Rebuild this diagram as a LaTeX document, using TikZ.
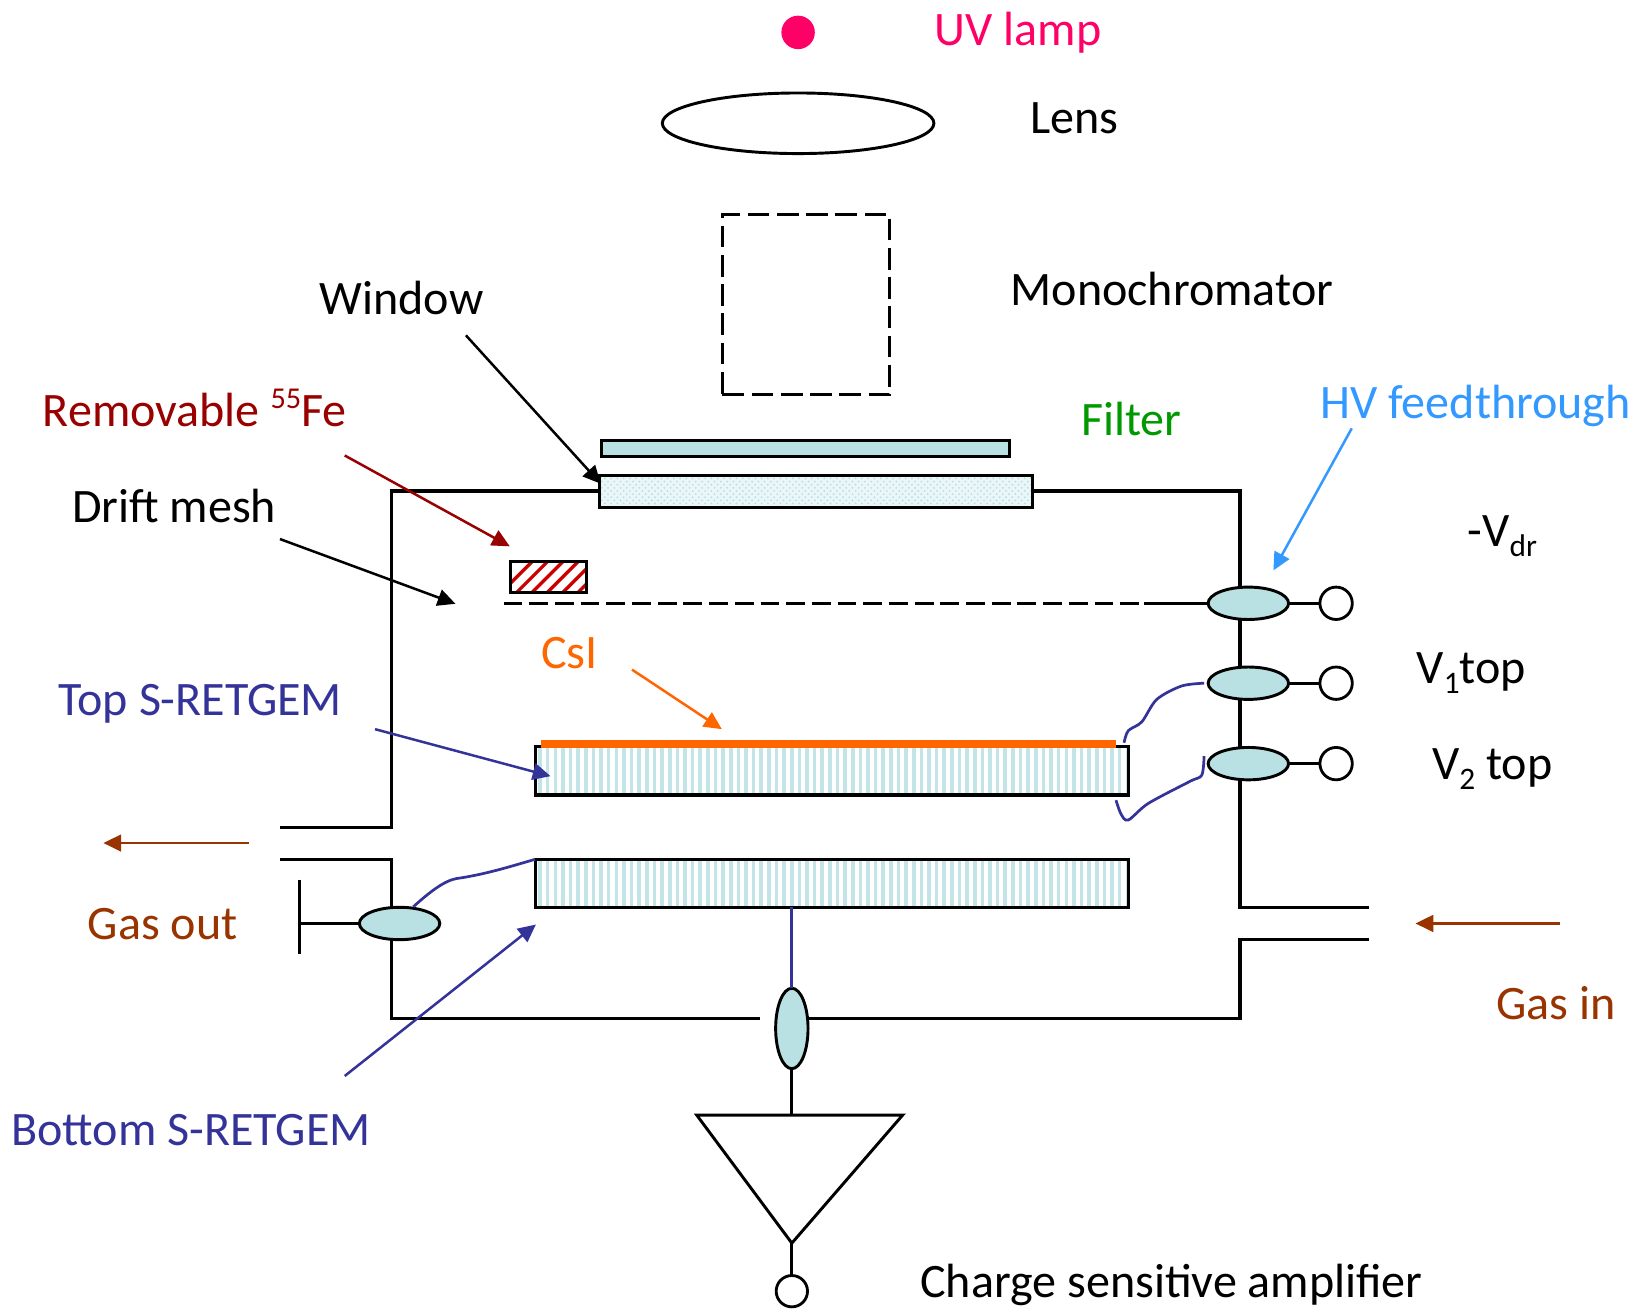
\documentclass[tikz,border=0pt]{standalone}
\usepackage{fontspec}
\setmainfont{Carlito}
\usetikzlibrary{shapes.geometric,arrows.meta,patterns}
\definecolor{pale}{HTML}{B9E0E3}
\definecolor{indigoc}{HTML}{333399}
\definecolor{brownc}{HTML}{993300}
\definecolor{redc}{HTML}{990000}
\definecolor{hvblue}{HTML}{3399FF}
\definecolor{orangec}{HTML}{FF6600}
\definecolor{greenc}{HTML}{009900}
\definecolor{pinkc}{HTML}{FF0066}
\tikzset{
 every node/.style={outer sep=0pt},
 wall/.style={line width=1.45pt,black},
 feed/.style={draw=black,line width=1.4pt,fill=pale,ellipse,inner sep=0pt,minimum width=38.5pt,minimum height=15.5pt},
 vfeed/.style={draw=black,line width=1.4pt,fill=pale,ellipse,inner sep=0pt,minimum width=15.5pt,minimum height=38.5pt},
 term/.style={draw=black,line width=1.35pt,fill=white,circle,inner sep=0pt,minimum size=15.5pt},
 lab/.style={anchor=base west,inner sep=0pt,font=\fontsize{23pt}{26pt}\selectfont},
 ptr/.style={line width=1.2pt,-{Triangle[length=8.5pt,width=8pt]}},
 wire/.style={line width=1.3pt,indigoc},
 plate/.style={draw=black,line width=1.45pt,inner sep=0pt,anchor=north west}
}
\newcommand{\subs}[1]{\raisebox{-4.5pt}{\fontsize{15pt}{15pt}\selectfont #1}}
\newcommand{\sups}[1]{\raisebox{8.5pt}{\fontsize{14.5pt}{15pt}\selectfont #1}}
\begin{document}
\begin{tikzpicture}[x=0.5pt,y=-0.5pt]
\useasboundingbox (0,0) rectangle (1568,1253);
% lamp, lens, monochromator
\node[circle,fill=pinkc,inner sep=0pt,minimum size=16pt] (lamp) at (764,31) {};
\node[draw=black,line width=1.4pt,ellipse,inner sep=0pt,minimum width=130pt,minimum height=29pt] (lens) at (764,118) {};
\node[draw=black,line width=1.4pt,dash pattern=on 10.4pt off 3.6pt,inner sep=0pt,minimum width=80pt,minimum height=86.5pt] (mono) at (771.5,291.5) {};
% filter
\node[draw=black,line width=1.4pt,fill=pale,inner sep=0pt,minimum width=195.5pt,minimum height=7.5pt] (filter) at (771,429.5) {};
% walls
\coordinate (TL) at (375,470); \coordinate (TR) at (1187,470);
\coordinate (BL) at (375,975); \coordinate (BR) at (1187,975);
\coordinate (gapL) at (727.5,975);
\coordinate (ol1) at (268,792); \coordinate (ol1c) at (375,792);
\coordinate (ol2) at (268,822.5); \coordinate (ol2c) at (375,822.5);
\coordinate (ir1) at (1310,868.5); \coordinate (ir1c) at (1187,868.5);
\coordinate (ir2) at (1310,899); \coordinate (ir2c) at (1187,899);
\node[draw=black,line width=1.4pt,fill=pale!30,inner sep=0pt,minimum width=207pt,minimum height=15.5pt] (win) at (781,470.5) {};
\fill[pattern=crosshatch dots,pattern color=pale] (win.south west) rectangle (win.north east);
\draw[line width=1.4pt] (win.south west) rectangle (win.north east);
\draw[wall] (win.west |- TL) -- (TL) -- (ol1c) -- (ol1);
\draw[wall] (win.east |- TR) -- (TR) -- (ir1c) -- (ir1);
\draw[wall] (ol2) -- (ol2c) -- (BL) -- (gapL);
\draw[wall] (758,975) -- (BR) -- (ir2c) -- (ir2);
% feedthroughs
\node[vfeed] (fb) at (758,984.5) {};
\node[feed] (f1) at (1195,577.5) {};
\node[feed] (f2) at (1195,654) {};
\node[feed] (f3) at (1195,731) {};
\node[feed] (f4) at (382.5,884) {};
\node[term] (t1) at (1279,577.5) {};
\node[term] (t2) at (1279,654) {};
\node[term] (t3) at (1279,731) {};
\draw[wall] (f1) -- (t1);
\draw[wall] (f2) -- (t2);
\draw[wall] (f3) -- (t3);
\coordinate (gndT) at (287,842); \coordinate (gndB) at (287,913); \coordinate (gndM) at (287,884);
\draw[wall] (gndT) -- (gndB);
\draw[wall] (f4) -- (gndM);
% drift mesh
\coordinate (meshA) at (482,577.5); \coordinate (meshB) at (1095,577.5);
\draw[line width=1.3pt,dash pattern=on 9pt off 3.3pt] (meshA) -- (meshB);
\draw[wall] (meshB) -- (f1);
% source
\node[plate,fill=white,minimum width=36pt,minimum height=15pt] (src) at (489,537.5) {};
\begin{scope}
\clip (src.south west) rectangle (src.north east);
\foreach \i in {0,...,8} \draw[line width=1.6pt,red!80!black] (475+\i*14.7,572) -- (515+\i*14.7,532);
\end{scope}
\draw[line width=1.45pt] (src.south west) rectangle (src.north east);
% S-RETGEMs
\node[plate,minimum width=283.5pt,minimum height=23pt] (gemT) at (513,715) {};
\node[plate,minimum width=283.5pt,minimum height=23pt] (gemB) at (513,822.5) {};
\foreach \g in {gemT,gemB}{
 \begin{scope}
 \clip (\g.south west) rectangle (\g.north east);
 \foreach \i in {0,...,78} \draw[line width=1.7pt,pale!85] (517+\i*7.3,700) -- (517+\i*7.3,880);
 \end{scope}
 \draw[line width=1.45pt] (\g.south west) rectangle (\g.north east);
}
\node[fill=orangec,inner sep=0pt,minimum width=275pt,minimum height=4pt] (csi) at (793,712) {};
% amplifier
\coordinate (A1) at (667,1067.5); \coordinate (A2) at (864,1067.5); \coordinate (A3) at (758,1190); \coordinate (Am) at (758,1067.5);
\draw[line width=1.4pt,line join=miter] (A1) -- (A2) -- (A3) -- cycle;
\node[term,minimum size=15pt] (tA) at (758,1236) {};
\draw[wall] (fb) -- (Am);
\draw[wall] (A3) -- (tA);
\draw[line width=1.4pt,indigoc] (fb.north) -- (fb.north |- gemB.south);
% wires
\coordinate (w1a) at (1152.6,654); \coordinate (w1b) at (1076,711);
\draw[wire] plot[smooth,tension=0.5] coordinates {(w1a) (1131,656.7) (1107.3,669.5) (1093,691) (1080,699.5) (w1b)};
\coordinate (w2a) at (1152.6,723.7); \coordinate (w2b) at (1068.3,766);
\draw[wire] plot[smooth,tension=0.5] coordinates {(w2a) (1150.4,742) (1139,748) (1099.3,769) (1080,785) (1073,779) (w2b)};
\coordinate (w3a) at (395.7,868); \coordinate (w3b) at (512.2,822.6);
\draw[wire] (w3a) .. controls (410,855) and (425,843) .. (437,841) .. controls (465,837) and (490,829) .. (w3b);
% labels
\node[lab,text=pinkc] (lUV) at (895,43.5) {UV lamp};
\node[lab] (lLens) at (986,127.5) {Lens};
\node[lab] (lMono) at (967.5,292.5) {Monochromator};
\node[lab] (lWin) at (306,301.5) {Window};
\node[lab,text=redc] (lFe) at (41,408) {Removable \sups{55}Fe};
\node[lab,text=greenc] (lFil) at (1035,417) {Filter};
\node[lab,text=hvblue] (lHV) at (1264,401) {HV feedthrough};
\node[lab] (lDM) at (69,500.5) {Drift mesh};
\node[lab] (lVd) at (1405,523.5) {-V\subs{dr}};
\node[lab,text=orangec] (lCsI) at (518,640) {CsI};
\node[lab,text=indigoc] (lTop) at (56,684.5) {Top S-RETGEM};
\node[lab] (lV1) at (1356,654.5) {V\subs{1}top};
\node[lab] (lV2) at (1371,746.5) {V\subs{2} top};
\node[lab,text=brownc] (lGO) at (84,899) {Gas out};
\node[lab,text=brownc] (lGI) at (1432.5,976) {Gas in};
\node[lab,text=indigoc] (lBot) at (11,1097) {Bottom S-RETGEM};
\node[lab] (lAmp) at (881,1242) {Charge sensitive amplifier};
% pointers
\coordinate (p1a) at (446,321); \coordinate (p1b) at (575,463);
\draw[ptr,black] (p1a) -- (p1b);
\coordinate (p2a) at (330,436); \coordinate (p2b) at (488,523);
\draw[ptr,redc] (p2a) -- (p2b);
\coordinate (p3a) at (268,516); \coordinate (p3b) at (436,578);
\draw[ptr,black] (p3a) -- (p3b);
\coordinate (p4a) at (1294,410); \coordinate (p4b) at (1219,546);
\draw[ptr,hvblue] (p4a) -- (p4b);
\coordinate (p5a) at (605,641); \coordinate (p5b) at (691,698);
\draw[ptr,orangec] (p5a) -- (p5b);
\coordinate (p6a) at (359,698); \coordinate (p6b) at (527,743);
\draw[ptr,indigoc] (p6a) -- (p6b);
\coordinate (p7a) at (330,1030); \coordinate (p7b) at (513,885);
\draw[ptr,indigoc] (p7a) -- (p7b);
\coordinate (p8a) at (238,807); \coordinate (p8b) at (99,807);
\draw[ptr,brownc] (p8a) -- (p8b);
\coordinate (p9a) at (1493,884); \coordinate (p9b) at (1355,884);
\draw[ptr,brownc] (p9a) -- (p9b);
\end{tikzpicture}
\end{document}
